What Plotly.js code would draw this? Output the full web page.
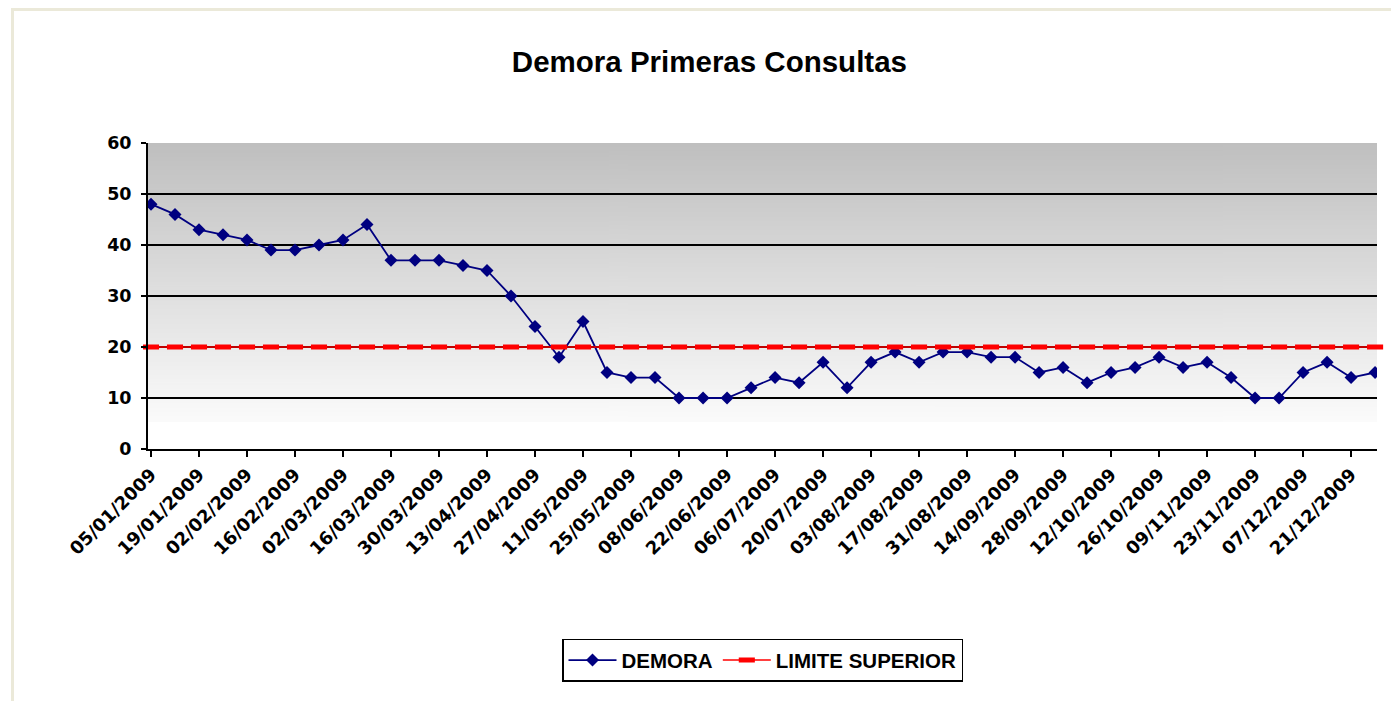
<!DOCTYPE html>
<html>
<head>
<meta charset="utf-8">
<script src="https://cdn.plot.ly/plotly-3.0.1.min.js"></script>
<style>
  html, body { margin: 0; padding: 0; background: #ffffff; }
  #wrap { position: relative; width: 1391px; height: 701px; overflow: hidden; }
  #chart { position: absolute; left: 0; top: 0; width: 1391px; height: 701px; }
  #frame { position: absolute; left: 11px; top: 8px; width: 1400px; height: 700px;
           border-left: 3px solid #ebe9d9; border-top: 3px solid #ebe9d9; pointer-events: none; }
</style>
</head>
<body>
<div id="wrap">
  <div id="chart"></div>
  <div id="frame"></div>
</div>
<script>
// Weekly dates (categories)
const dates = [
  '05/01/2009','12/01/2009','19/01/2009','26/01/2009','02/02/2009','09/02/2009','16/02/2009','23/02/2009',
  '02/03/2009','09/03/2009','16/03/2009','23/03/2009','30/03/2009','06/04/2009','13/04/2009','20/04/2009',
  '27/04/2009','04/05/2009','11/05/2009','18/05/2009','25/05/2009','01/06/2009','08/06/2009','15/06/2009',
  '22/06/2009','29/06/2009','06/07/2009','13/07/2009','20/07/2009','27/07/2009','03/08/2009','10/08/2009',
  '17/08/2009','24/08/2009','31/08/2009','07/09/2009','14/09/2009','21/09/2009','28/09/2009','05/10/2009',
  '12/10/2009','19/10/2009','26/10/2009','02/11/2009','09/11/2009','16/11/2009','23/11/2009','30/11/2009',
  '07/12/2009','14/12/2009','21/12/2009','28/12/2009'
];
// Series values
const demora = [
  48,46,43,42,41,39,39,40,41,44,37,37,37,36,35,30,
  24,18,25,15,14,14,10,10,10,12,14,13,17,12,17,19,
  17,19,19,18,18,15,16,13,15,16,18,16,17,14,10,10,
  15,17,14,15
];
const limiteValue = 20;
const limite = dates.map(() => limiteValue);
// Tick labels (every second week)
const tickLabels = dates.filter((d, i) => i % 2 === 0);

const FONT = '"Liberation Sans", Arial, sans-serif';
const WIDE = '"DejaVu Sans", "Liberation Sans", sans-serif';

// Plot-area background gradient (grey at top fading to white), built on a canvas
function gradientURL() {
  const cv = document.createElement('canvas');
  cv.width = 4; cv.height = 512;
  const ctx = cv.getContext('2d');
  const g = ctx.createLinearGradient(0, 0, 0, 512);
  g.addColorStop(0, 'rgb(191,191,191)');
  g.addColorStop(1, 'rgb(251,251,251)');
  ctx.fillStyle = g;
  ctx.fillRect(0, 0, 4, 512);
  return cv.toDataURL('image/png');
}
const gTop = 60, gBottom = 5.3;

const traces = [
  {
    x: dates, y: demora, name: 'DEMORA', type: 'scatter', mode: 'lines+markers',
    line: { color: '#000080', width: 1.8 },
    marker: { symbol: 'diamond', size: 10, color: '#000080' }
  },
  {
    x: dates, y: limite, name: 'LIMITE SUPERIOR', type: 'scatter', mode: 'lines+markers',
    cliponaxis: false,
    line: { color: '#ff0000', width: 1.5 },
    marker: { symbol: 'line-ew', size: 11.5, color: '#ff0000', line: { color: '#ff0000', width: 5 } }
  }
];

const layout = {
  width: 1391, height: 701,
  paper_bgcolor: '#ffffff', plot_bgcolor: '#ffffff',
  font: { family: FONT, color: '#000000', size: 18, weight: 'bold' },
  margin: { l: 148, r: 14, t: 143, b: 252, pad: 0 },
  title: {
    text: 'Demora Primeras Consultas',
    font: { family: FONT, size: 29.5, color: '#000000', weight: 'bold' },
    xref: 'container', yref: 'container', x: 0.51, xanchor: 'center', y: 0.9116, yanchor: 'middle'
  },
  showlegend: true,
  legend: {
    orientation: 'h', x: 0.5, xanchor: 'center', y: -0.62, yanchor: 'top',
    bgcolor: '#ffffff', bordercolor: '#000000', borderwidth: 1.5,
    font: { family: FONT, size: 20.5, color: '#000000', weight: 'bold' },
    itemwidth: 48, tracegroupgap: 0
  },
  xaxis: {
    type: 'category', categoryorder: 'array', categoryarray: dates,
    range: [-0.125, 51.08],
    tickmode: 'array', tickvals: tickLabels, ticktext: tickLabels,
    tickangle: -45,
    ticks: 'outside', ticklen: 6, tickwidth: 1.5, tickcolor: '#000000',
    showline: true, linecolor: '#000000', linewidth: 2,
    showgrid: false, zeroline: false,
    tickfont: { family: WIDE, size: 18, color: '#000000', weight: 'bold' }
  },
  yaxis: {
    range: [0, 60], dtick: 10, tick0: 0,
    ticks: 'outside', ticklen: 5, tickwidth: 1.5, tickcolor: '#000000',
    showline: true, linecolor: '#000000', linewidth: 2,
    showgrid: true, gridcolor: '#000000', gridwidth: 1.5,
    zeroline: false, ticklabelstandoff: 6,
    tickfont: { family: WIDE, size: 17.5, color: '#000000', weight: 'bold' }
  },
  images: [{
    source: gradientURL(), xref: 'paper', yref: 'y',
    x: 0, y: gTop, sizex: 1, sizey: gTop - gBottom,
    xanchor: 'left', yanchor: 'top', sizing: 'stretch', layer: 'below'
  }]
};

Plotly.newPlot('chart', traces, layout, { displayModeBar: false, staticPlot: true });
</script>
</body>
</html>
